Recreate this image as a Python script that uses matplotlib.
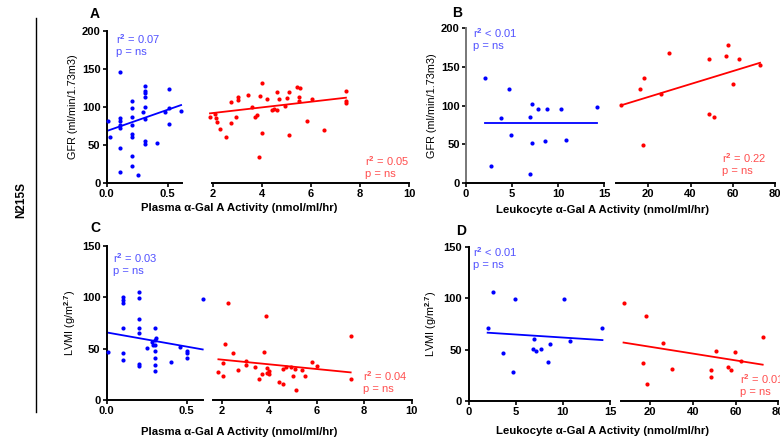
import numpy as np
import matplotlib
matplotlib.use("Agg")
import matplotlib.pyplot as plt

plt.rcParams['font.family'] = ['Liberation Sans', 'DejaVu Sans']
plt.rcParams['font.weight'] = 'bold'
plt.rcParams['mathtext.fontset'] = 'custom'
plt.rcParams['mathtext.rm'] = 'Liberation Sans'
plt.rcParams['mathtext.bf'] = 'Liberation Sans:bold'

# ---- data ----
# A: GFR vs plasma activity
a_blue_x = [0.01, 0.03, 0.11, 0.11, 0.11, 0.11, 0.11, 0.11, 0.11, 0.21, 0.21, 0.21, 0.21, 0.21,
            0.21, 0.21, 0.21, 0.26, 0.30, 0.31, 0.31, 0.31, 0.31, 0.31, 0.31, 0.31, 0.31, 0.41,
            0.51, 0.51, 0.51, 0.48, 0.61]
a_blue_y = [81.6, 60.5, 146, 84.6, 81.6, 75.9, 71.5, 46, 14, 107.5, 97.8, 86, 75.9, 63.6,
            60.5, 35, 22, 10, 93.4, 127, 121, 117.5, 113, 100, 83.8, 54.8, 50.4, 52.6,
            123.7, 97.8, 76.8, 93.4, 94.7]
a_red_x = [1.89, 2.10, 2.14, 2.16, 2.30, 2.53, 2.73, 2.73, 2.94, 3.05, 3.05, 3.43, 3.59, 3.73,
           3.80, 3.90, 3.93, 4.03, 4.03, 4.20, 4.41, 4.48, 4.61, 4.61, 4.71, 4.94, 5.03, 5.09,
           5.13, 5.43, 5.54, 5.52, 5.52, 5.84, 6.04, 6.54, 7.43, 7.43, 7.43]
a_red_y = [86.8, 90.4, 85.5, 80.3, 70.6, 60, 79, 105.7, 86.8, 112.3, 108.8, 115.4, 100, 86.8,
           89, 34.2, 114.5, 131.6, 65, 109.6, 95.6, 96.5, 95.6, 118.9, 109.6, 100.9, 111.8, 62.7,
           119.7, 125.9, 125, 112.3, 107.5, 81.6, 109.6, 69.7, 120.6, 107.9, 105.3]
a_blue_fit = (56.0, 68.0)   # slope, intercept
a_red_fit = (3.72, 84.2)

# B: GFR vs leukocyte activity
b_blue_x = [2.07, 2.68, 3.77, 4.64, 4.93, 6.96, 6.96, 7.14, 7.14, 7.79, 8.77, 8.59, 10.29, 10.83, 14.2]
b_blue_y = [135.2, 22, 83.4, 121.4, 61.3, 85.5, 10.8, 101.5, 51.8, 95, 95.9, 54, 95, 55.3, 98]
b_red_x = [7.05, 16.05, 17.95, 17.6, 25.8, 29.95, 48.9, 48.9, 51.1, 56.8, 57.9, 60, 63, 72.9]
b_red_y = [100.2, 121.8, 135.1, 48.8, 114.4, 168.4, 159.8, 89.4, 84.6, 164, 177.9, 127.4, 159.8, 152]
b_blue_fit = (0.0, 77.8)
b_red_fit = (0.837, 94.3)

# C: LVMI vs plasma activity
c_blue_x = [0.006, 0.104, 0.104, 0.104, 0.104, 0.104, 0.104, 0.202, 0.202, 0.202, 0.202, 0.202,
            0.202, 0.202, 0.254, 0.281, 0.29, 0.302, 0.302, 0.302, 0.302, 0.302, 0.302, 0.302,
            0.31, 0.40, 0.46, 0.50, 0.50, 0.50, 0.60]
c_blue_y = [47.1, 100.6, 97.4, 94.8, 70.5, 46.1, 39, 105.5, 99.7, 78.6, 70.5, 65.6,
            34.7, 33.4, 51, 56.2, 53.2, 70.5, 58.4, 53.6, 48, 40.6, 34.1, 28.2,
            60, 37.3, 51.3, 47.7, 45.5, 40.9, 98.4]
c_red_x = [1.86, 2.07, 2.07, 2.14, 2.28, 2.49, 2.70, 3.01, 3.01, 3.40, 3.57, 3.71, 3.78, 3.88,
           3.89, 3.92, 3.99, 3.99, 4.41, 4.57, 4.60, 4.69, 4.91, 5.02, 5.09, 5.12, 5.40, 5.51,
           5.82, 6.00, 7.43, 7.43]
c_red_y = [27.3, 23.4, 36.4, 54.2, 94.8, 46.1, 29.2, 38, 34.4, 32.5, 20.1, 25.6, 47.1, 82.1,
           31.5, 26, 28.2, 25.3, 17.9, 15.6, 30.2, 31.8, 31.8, 23.7, 29.9, 9.7, 29.2, 23.4,
           36.7, 33.1, 62.3, 20.1]
c_blue_fit = (-27.6, 65.8)
c_red_fit = (-2.29, 43.9)

# D: LVMI vs leukocyte activity
d_blue_x = [2.03, 2.56, 3.62, 4.75, 4.93, 6.80, 6.98, 7.12, 7.69, 8.64, 8.46, 10.12, 10.76, 14.2]
d_blue_y = [71.3, 105.6, 47, 28.5, 99.4, 50.9, 59.9, 48.6, 50.2, 55.1, 38.2, 98.8, 58.3, 70.7]
d_red_x = [7.53, 16.57, 18.13, 18.44, 26.24, 30.13, 48.53, 48.53, 50.87, 56.32, 57.88, 59.75, 62.55, 72.69]
d_red_y = [94.9, 36.6, 82.9, 16.5, 56, 30.8, 30.1, 23.6, 48.6, 33.4, 29.8, 47.9, 38.9, 62.5]
d_blue_fit = (-0.59, 67.6)
d_red_fit = (-0.33, 59.3)

W, H = 780, 442
BLUE, RED = '#0000ff', '#ff0000'
BLUE_TXT, RED_TXT = '#5252ff', '#ff4f4f'

fig = plt.figure(figsize=(W / 100, H / 100), dpi=100)


def px_axes(x0, x1, ytop, ybot):
    return fig.add_axes([x0 / W, 1 - ybot / H, (x1 - x0) / W, (ybot - ytop) / H])


def style(ax, left_spine):
    for s in ['top', 'right']:
        ax.spines[s].set_visible(False)
    ax.spines['left'].set_visible(left_spine)
    ax.spines['bottom'].set_linewidth(1.4)
    ax.spines['left'].set_linewidth(1.4)
    ax.patch.set_alpha(0)
    ax.tick_params(direction='out', length=3, width=1.2, labelsize=8, pad=1.5)
    if not left_spine:
        ax.tick_params(axis='y', left=False, labelleft=False)


def group(ax, xs, ys, fit, color):
    ax.scatter(xs, ys, s=9, color=color, linewidths=0, clip_on=False, zorder=3)
    xx = np.array([min(xs), max(xs)])
    ax.plot(xx, fit[0] * xx + fit[1], color=color, lw=1.3, clip_on=False)


def panel(boxl, boxr, ytop, ybot, xliml, xlimr, ymax, xtl, xtr, xtl_lab, xtr_lab,
          blue, red, ylabel):
    axl = px_axes(boxl[0], boxl[1], ytop, ybot)
    axr = px_axes(boxr[0], boxr[1], ytop, ybot)
    for ax, lim in [(axl, xliml), (axr, xlimr)]:
        ax.set_xlim(*lim)
        ax.set_ylim(0, ymax)
    style(axl, True)
    style(axr, False)
    axl.set_yticks(np.arange(0, ymax + 1, 50))
    axl.set_xticks(xtl)
    axl.set_xticklabels(xtl_lab)
    axr.set_xticks(xtr)
    axr.set_xticklabels(xtr_lab)
    group(axl, blue[0], blue[1], blue[2], BLUE)
    group(axr, red[0], red[1], red[2], RED)
    axl.set_ylabel(ylabel, fontsize=7.8, labelpad=3)
    return axl, axr


axA = panel((106.7, 182.3), (211.7, 409), 30.7, 182.7, (0, 0.62), (1.96, 10), 200,
            [0, 0.5], [2, 4, 6, 8, 10], ['0.0', '0.5'], ['2', '4', '6', '8', '10'],
            (a_blue_x, a_blue_y, a_blue_fit), (a_red_x, a_red_y, a_red_fit),
            'GFR (ml/min/1.73m3)')
axB = panel((466, 604), (616, 775), 28.3, 182.7, (0, 15), (4.7, 80), 200,
            [0, 5, 10, 15], [20, 40, 60, 80], ['0', '5', '10', '15'], ['20', '40', '60', '80'],
            (b_blue_x, b_blue_y, b_blue_fit), (b_red_x, b_red_y, b_red_fit),
            'GFR (ml/min/1.73m3)')
axC = panel((106.7, 202.7), (212.7, 411.7), 246, 400, (0, 0.6), (1.62, 10), 150,
            [0, 0.5], [2, 4, 6, 8, 10], ['0.0', '0.5'], ['2', '4', '6', '8', '10'],
            (c_blue_x, c_blue_y, c_blue_fit), (c_red_x, c_red_y, c_red_fit),
            r'LVMI (g/m$^{2.7}$)')
axD = panel((468.5, 610), (620.7, 778.3), 246.7, 401, (0, 15), (6.2, 80), 150,
            [0, 5, 10, 15], [20, 40, 60, 80], ['0', '5', '10', '15'], ['20', '40', '60', '80'],
            (d_blue_x, d_blue_y, d_blue_fit), (d_red_x, d_red_y, d_red_fit),
            r'LVMI (g/m$^{2.7}$)')
axB[0].spines['left'].set_color('#777777')


def ftext(x, y, s, **kw):
    fig.text(x / W, 1 - y / H, s, **kw)


# panel letters
for (x, y, s) in [(95, 14, 'A'), (457, 13, 'B'), (95, 228, 'C'), (461, 231, 'D')]:
    ftext(x, y, s, fontsize=10, ha='center', va='center')

# x labels
for (x, y, s) in [(239, 208, 'Plasma α-Gal A Activity (nmol/ml/hr)'),
                  (239, 432, 'Plasma α-Gal A Activity (nmol/ml/hr)'),
                  (603, 210, 'Leukocyte α-Gal A Activity (nmol/ml/hr)'),
                  (603, 431, 'Leukocyte α-Gal A Activity (nmol/ml/hr)')]:
    ftext(x, y, s, fontsize=8.2, ha='center', va='center')

# stats text
stats = [(116, 39, r'r$^2$ = 0.07', BLUE_TXT), (365, 161, r'r$^2$ = 0.05', RED_TXT),
         (473, 33, r'r$^2$ < 0.01', BLUE_TXT), (722, 158, r'r$^2$ = 0.22', RED_TXT),
         (113, 258, r'r$^2$ = 0.03', BLUE_TXT), (363, 376, r'r$^2$ = 0.04', RED_TXT),
         (473, 252, r'r$^2$ < 0.01', BLUE_TXT), (740, 379, r'r$^2$ = 0.01', RED_TXT)]
for (x, y, s, c) in stats:
    ftext(x, y, s, fontsize=8, color=c, fontweight='normal', va='center')
    ftext(x, y + 13, 'p = ns', fontsize=8, color=c, fontweight='normal', va='center')

# row label and separator
ftext(21.7, 200, 'N215S', fontsize=8.5, rotation=90, ha='center', va='center')
fig.add_artist(plt.Line2D([36 / W, 36 / W], [1 - 18 / H, 1 - 412 / H], color='black', lw=1))

fig.savefig('out.png', dpi=100)
